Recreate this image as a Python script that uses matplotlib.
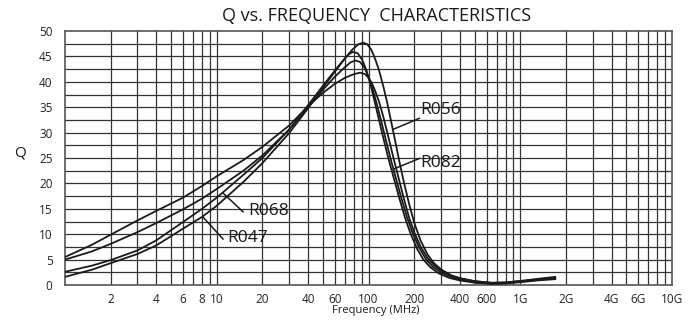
import numpy as np
import matplotlib
matplotlib.use("Agg")
import matplotlib.pyplot as plt

plt.rcParams['font.family'] = ['Open Sans', 'DejaVu Sans']

# ---- data ----
freq_a = [1, 1.5, 2, 3, 4, 6, 8, 10, 15, 20, 30, 40, 50, 60, 70, 80, 88, 95, 100, 105, 110, 117, 125, 135, 145, 155, 170, 185, 200, 220, 245, 270, 300, 350, 400, 500, 650, 800, 1000, 1300, 1700]
q_a    = [5.5, 7.9, 9.9, 12.7, 14.6, 17.2, 19.5, 21.4, 24.6, 27.2, 31.4, 35.2, 37.8, 39.6, 40.8, 41.5, 41.8, 41.5, 40.8, 39.8, 38.4, 36.2, 33.2, 29.2, 25.4, 22.0, 17.3, 13.3, 10.4, 7.6, 5.3, 3.9, 2.9, 1.9, 1.35, 0.75, 0.45, 0.5, 0.75, 1.1, 1.45]

freq_b = [1, 1.5, 2, 3, 4, 6, 8, 10, 15, 20, 30, 40, 50, 60, 70, 76, 82, 88, 94, 100, 106, 113, 120, 130, 140, 150, 165, 180, 195, 215, 240, 265, 300, 350, 400, 500, 650, 800, 1000, 1300, 1700]
q_b    = [5.0, 6.6, 8.1, 10.4, 12.2, 14.9, 17.0, 18.9, 22.5, 25.5, 30.6, 35.0, 38.4, 41.0, 42.9, 43.8, 44.2, 43.9, 42.8, 41.0, 38.8, 35.8, 32.8, 28.6, 24.8, 21.5, 17.0, 13.2, 10.3, 7.4, 5.0, 3.6, 2.5, 1.6, 1.1, 0.6, 0.3, 0.4, 0.65, 1.0, 1.3]

freq_c = [1, 1.5, 2, 3, 4, 6, 8, 10, 15, 20, 30, 40, 50, 60, 68, 74, 79, 85, 91, 97, 103, 110, 117, 126, 135, 145, 160, 175, 190, 210, 230, 255, 290, 340, 400, 500, 650, 800, 1000, 1300, 1700]
q_c    = [2.6, 3.8, 4.9, 6.8, 8.8, 12.4, 15.0, 17.2, 21.7, 25.0, 30.6, 35.4, 39.2, 42.2, 44.2, 45.4, 45.9, 45.6, 44.3, 42.2, 39.5, 36.0, 32.6, 28.6, 25.0, 21.6, 17.0, 13.0, 10.0, 7.0, 5.0, 3.5, 2.3, 1.4, 0.9, 0.45, 0.2, 0.3, 0.55, 0.9, 1.15]

freq_d = [1, 1.5, 2, 3, 4, 6, 8, 10, 15, 20, 30, 40, 50, 60, 70, 78, 86, 92, 98, 104, 110, 117, 125, 133, 141, 150, 160, 170, 185, 200, 220, 245, 270, 300, 350, 400, 500, 650, 800, 1000, 1300, 1700]
q_d    = [1.6, 3.0, 4.3, 6.1, 7.8, 11.1, 13.4, 15.6, 20.3, 24.0, 29.9, 34.8, 38.8, 42.0, 44.6, 46.3, 47.4, 47.7, 47.4, 46.4, 44.7, 42.4, 39.2, 35.8, 32.2, 28.3, 24.2, 20.6, 16.0, 12.3, 8.8, 6.0, 4.3, 3.1, 1.9, 1.3, 0.75, 0.4, 0.5, 0.8, 1.2, 1.6]

series = [(freq_a, q_a), (freq_b, q_b), (freq_c, q_c), (freq_d, q_d)]

# part labels: name, point on curve, leader end, text anchor (all in data units)
label_names = ["R056", "R082", "R068", "R047"]
label_curve_pts = [(145.7, 30.65), (145.7, 22.8), (11.0, 18.1), (8.1, 13.4)]
label_leader_end = [(216, 32.8), (216, 24.9), (14.9, 14.4), (11.0, 9.06)]
label_text_pos = [(218, 34.4), (218, 24.1), (16.1, 14.6), (11.7, 9.3)]

x_ticks = [2, 4, 6, 8, 10, 20, 40, 60, 100, 200, 400, 600, 1000, 2000, 4000, 6000, 10000]
x_tick_labels = ["2", "4", "6", "8", "10", "20", "40", "60", "100", "200", "400", "600", "1G", "2G", "4G", "6G", "10G"]
y_ticks = [0, 5, 10, 15, 20, 25, 30, 35, 40, 45, 50]

# ---- figure ----
fig = plt.figure(figsize=(6.97, 3.27), dpi=100)
ax = fig.add_axes([65/697, 42/327, 607/697, 254/327])
ax.set_xscale('log')
ax.set_xlim(1, 10000)
ax.set_ylim(0, 50)

grid_col = '#333333'
for dec in [1, 10, 100, 1000]:
    for m in range(2, 11):
        v = dec * m
        if v < 10000:
            ax.axvline(v, color=grid_col, lw=0.9, zorder=1)
for yv in np.arange(2.5, 50, 2.5):
    ax.axhline(yv, color=grid_col, lw=0.9, zorder=1)

for f, q in series:
    ax.plot(f, q, color='#1a1a1a', lw=1.3, zorder=3, solid_joinstyle='round')

for name, cp, le, tp in zip(label_names, label_curve_pts, label_leader_end, label_text_pos):
    ax.plot([cp[0], le[0]], [cp[1], le[1]], color='#1a1a1a', lw=1.1, zorder=3)
    ax.text(tp[0], tp[1], name, fontsize=12.5, ha='left', va='center', color='#1a1a1a', zorder=4)

ax.set_xticks(x_ticks)
ax.set_xticklabels(x_tick_labels)
ax.xaxis.set_minor_locator(matplotlib.ticker.NullLocator())
ax.set_yticks(y_ticks)
ax.tick_params(axis='both', length=0, labelsize=8.5, colors='#222222')
ax.tick_params(axis='x', pad=6)
ax.tick_params(axis='y', pad=9)
for s in ax.spines.values():
    s.set_color('#555555')
    s.set_linewidth(1.2)

fig.text(377/697, 1 - 16/327, "Q vs. FREQUENCY  CHARACTERISTICS", fontsize=13, ha='center', va='center', color='#1a1a1a')
fig.text(20/697, 1 - 153/327, "Q", fontsize=11, ha='center', va='center', color='#1a1a1a')
fig.text(376/697, 1 - 311/327, "Frequency (MHz)", fontsize=8, ha='center', va='center', color='#1a1a1a')

fig.savefig("out.png", dpi=100)
